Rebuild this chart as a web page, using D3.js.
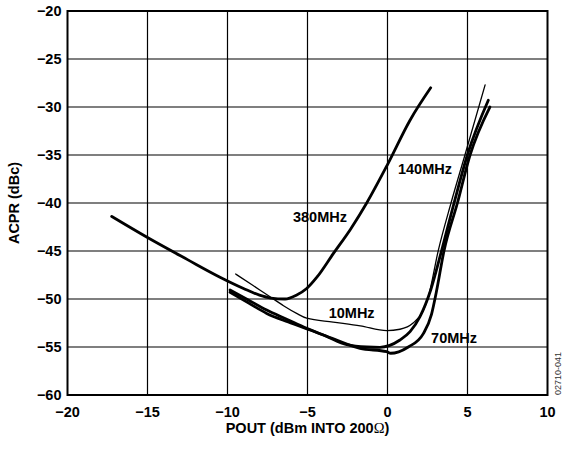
<!DOCTYPE html>
<html>
<head>
<meta charset="utf-8">
<script src="https://cdn.jsdelivr.net/npm/d3@7"></script>
<style>
body { margin: 0; background: #fff; }
text { font-family: "Liberation Sans", Arial, sans-serif; font-weight: bold; }
</style>
</head>
<body>
<script>
// axis ticks
var xTicks = [-20, -15, -10, -5, 0, 5, 10];
var yTicks = [-20, -25, -30, -35, -40, -45, -50, -55, -60];

// curves: [POUT dBm, ACPR dBc]
var acpr380 = [[-17.24, -41.4], [-15, -43.6], [-12.5, -45.9], [-10.5, -47.7], [-9, -48.9], [-8, -49.6],
    [-7.3, -49.9], [-6.4, -50.0], [-5.7, -49.6], [-5.05, -48.9], [-4.4, -47.7], [-3.4, -45.3],
    [-2.3, -42.7], [-1.3, -40.0], [0, -36.0], [1.4, -31.4], [2.7, -28.0]];
var acpr140 = [[-9.84, -49.06], [-8.7, -50.1], [-7.55, -51.15], [-6.3, -52.1], [-5.05, -53.05],
    [-3.8, -53.9], [-2.55, -54.75], [-1.3, -55.0], [-0.47, -55.03], [0.78, -54.27], [1.41, -53.4],
    [2.03, -51.84], [2.7, -49.06], [3.39, -44.9], [4.16, -40], [4.99, -35], [6.3, -29.3]];
var acpr70 = [[-9.84, -49.3], [-8.7, -50.4], [-7.55, -51.5], [-6.2, -52.4], [-4.84, -53.23], [-3.3, -54.2],
    [-1.72, -55.14], [-0.05, -55.49], [0.2, -55.65], [0.7, -55.5], [1.3, -55.0], [2.24, -53.6],
    [2.75, -51.6], [3.05, -49.3], [3.53, -45.0], [4.37, -40], [5.16, -35], [6.4, -30.0]];
var acpr10 = [[-9.49, -47.4], [-8.4, -48.6], [-7.34, -49.76], [-6.5, -50.7], [-5.68, -51.5], [-5.05, -52.0],
    [-3.4, -52.4], [-1.7, -52.8], [-0.05, -53.3], [0.78, -53.15], [1.6, -52.5], [2.24, -51.2],
    [2.55, -49.8], [3.18, -44.9], [3.97, -40], [4.84, -35], [6.1, -27.7]];

var labelText = ["380MHz", "140MHz", "10MHz", "70MHz"];
var labelX = [-4.22, 2.34, -2.24, 4.16];
var labelY = [-41.98, -36.98, -51.98, -54.58];

var W = 563, H = 450;
var margin = {left: 67.5, top: 11, right: 15.5, bottom: 55};

var svg = d3.select("body").append("svg")
    .attr("width", W)
    .attr("height", H);

var x = d3.scaleLinear().domain([-20, 10]).range([margin.left, W - margin.right]);
var y = d3.scaleLinear().domain([-60, -20]).range([H - margin.bottom, margin.top]);

// grid
svg.append("g")
    .selectAll("line")
    .data(xTicks.slice(1, -1))
    .enter().append("line")
    .attr("x1", d => x(d)).attr("x2", d => x(d))
    .attr("y1", y(-20)).attr("y2", y(-60))
    .attr("stroke", "#000").attr("stroke-width", 1.2);
svg.append("g")
    .selectAll("line")
    .data(yTicks.slice(1, -1))
    .enter().append("line")
    .attr("x1", x(-20)).attr("x2", x(10))
    .attr("y1", d => y(d)).attr("y2", d => y(d))
    .attr("stroke", "#000").attr("stroke-width", 1.2);

// frame
svg.append("rect")
    .attr("x", x(-20)).attr("y", y(-20))
    .attr("width", x(10) - x(-20)).attr("height", y(-60) - y(-20))
    .attr("fill", "none").attr("stroke", "#000").attr("stroke-width", 2);

// tick labels
var fmt = d3.format("d");
svg.append("g")
    .selectAll("text")
    .data(xTicks)
    .enter().append("text")
    .attr("x", d => x(d))
    .attr("y", y(-60) + 22)
    .attr("text-anchor", "middle")
    .attr("font-size", "14.5px")
    .text(d => fmt(d));
svg.append("g")
    .selectAll("text")
    .data(yTicks)
    .enter().append("text")
    .attr("x", x(-20) - 6)
    .attr("y", d => y(d) + 5)
    .attr("text-anchor", "end")
    .attr("font-size", "14.5px")
    .text(d => fmt(d));

// axis titles
var xt = svg.append("text")
    .attr("x", (x(-20) + x(10)) / 2)
    .attr("y", 433)
    .attr("text-anchor", "middle")
    .attr("font-size", "14.5px")
    .text("POUT (dBm INTO 200");
xt.append("tspan")
    .style("font-family", "'Liberation Serif', serif")
    .style("font-weight", "normal")
    .text("Ω");
xt.append("tspan").text(")");

svg.append("text")
    .attr("transform", "translate(19," + ((y(-20) + y(-60)) / 2) + ") rotate(-90)")
    .attr("text-anchor", "middle")
    .attr("font-size", "14.5px")
    .text("ACPR (dBc)");

// curves
var line = d3.line()
    .x(d => x(d[0]))
    .y(d => y(d[1]))
    .curve(d3.curveMonotoneX);

var series = [acpr380, acpr140, acpr70, acpr10];
var widths = [2.8, 2.8, 2.8, 1.3];
svg.append("g")
    .selectAll("path")
    .data(series)
    .enter().append("path")
    .attr("d", line)
    .attr("fill", "none")
    .attr("stroke", "#000")
    .attr("stroke-width", (d, i) => widths[i])
    .attr("stroke-linecap", "round");

// curve labels
svg.append("g")
    .selectAll("text")
    .data(labelText)
    .enter().append("text")
    .attr("x", (d, i) => x(labelX[i]))
    .attr("y", (d, i) => y(labelY[i]))
    .attr("text-anchor", "middle")
    .attr("font-size", "14.5px")
    .text(d => d);

// figure code
svg.append("text")
    .attr("transform", "translate(561,395) rotate(-90)")
    .attr("font-size", "9px")
    .style("font-weight", "normal")
    .attr("fill", "#333")
    .text("02710-041");
</script>
</body>
</html>
